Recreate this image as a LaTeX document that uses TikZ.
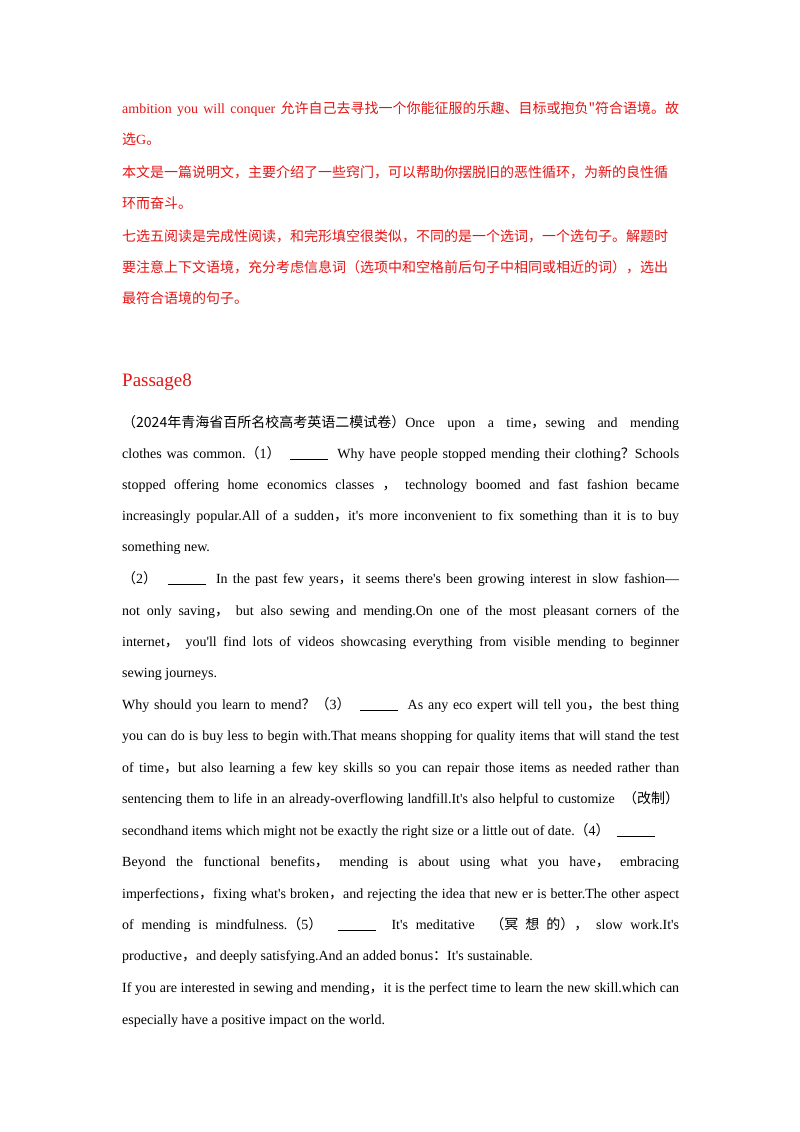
\documentclass[tikz,border=0pt]{standalone}
\usepackage{fontspec}
\setmainfont{Liberation Serif}[Ligatures=TeXReset]
\newfontfamily\cjk{Noto Sans CJK SC}
\definecolor{redt}{RGB}{230,20,20}
\newcommand\J[1]{\hbox to 557pt{#1}}
\newcommand\B{\underline{\hspace{38pt}}}
\hbadness=10000
\begin{document}
\begin{tikzpicture}[x=1pt,y=-1pt,
 ln/.style={anchor=base west,inner sep=0pt,font=\fontsize{14}{16}\selectfont},
 rd/.style={text=redt}]
\useasboundingbox (0,0) rectangle (800,1132);
\node[ln,rd] (r1) at (122,113) {\J{ambition you will conquer {\cjk 允许自己去寻找一个你能征服的乐趣、目标或抱负"符合语境。故}}};
\node[ln,rd] (r2) at (122,144) {{\cjk 选}G{\cjk 。}};
\node[ln,rd] (r3) at (122,177) {\J{\cjk 本文是一篇说明文，主要介绍了一些窍门，可以帮助你摆脱旧的恶性循环，为新的良性循}};
\node[ln,rd] (r4) at (122,208) {\cjk 环而奋斗。};
\node[ln,rd] (r5) at (122,241) {\J{\cjk 七选五阅读是完成性阅读，和完形填空很类似，不同的是一个选词，一个选句子。解题时}};
\node[ln,rd] (r6) at (122,272) {\J{\cjk 要注意上下文语境，充分考虑信息词（选项中和空格前后句子中相同或相近的词），选出}};
\node[ln,rd] (r7) at (122,303) {\cjk 最符合语境的句子。};
\node[anchor=base west,inner sep=0pt,text=redt,font=\fontsize{19}{22}\selectfont] (h) at (122,386) {Passage8};
\node[ln] (a1) at (122,427) {\J{{\cjk （2024年青海省百所名校高考英语二模试卷）}Once upon a time{\cjk ，}sewing and mending}};
\node[ln] (a2) at (122,458) {\J{clothes was common.{\cjk （}1{\cjk ）}\ \ \B\ \ Why have people stopped mending their clothing{\cjk ？}Schools}};
\node[ln] (a3) at (122,489) {\J{stopped offering home economics classes {\cjk ，} technology boomed and fast fashion became}};
\node[ln] (a4) at (122,520) {\J{increasingly popular.All of a sudden{\cjk ，}it's more inconvenient to fix something than it is to buy}};
\node[ln] (a5) at (122,551) {something new.};
\node[ln] (b1) at (122,583) {\J{{\cjk （}2{\cjk ）}\ \ \B\ \ In the past few years{\cjk ，}it seems there's been growing interest in slow fashion—}};
\node[ln] (b2) at (122,615) {\J{not only saving{\cjk ，} but also sewing and mending.On one of the most pleasant corners of the}};
\node[ln] (b3) at (122,646) {\J{internet{\cjk ，} you'll find lots of videos showcasing everything from visible mending to beginner}};
\node[ln] (b4) at (122,677) {sewing journeys.};
\node[ln] (c1) at (122,709) {\J{Why should you learn to mend{\cjk ？（}3{\cjk ）}\ \ \B\ \ As any eco expert will tell you{\cjk ，}the best thing}};
\node[ln] (c2) at (122,740) {\J{you can do is buy less to begin with.That means shopping for quality items that will stand the test}};
\node[ln] (c3) at (122,772) {\J{of time{\cjk ，}but also learning a few key skills so you can repair those items as needed rather than}};
\node[ln] (c4) at (122,803) {\J{sentencing them to life in an already-overflowing landfill.It's also helpful to customize \ {\cjk （改制）}}};
\node[ln] (c5) at (122,835) {secondhand items which might not be exactly the right size or a little out of date.{\cjk （}4{\cjk ）}\ \ \B};
\node[ln] (d1) at (122,866) {\J{Beyond the functional benefits{\cjk ，} mending is about using what you have{\cjk ，} embracing}};
\node[ln] (d2) at (122,898) {\J{imperfections{\cjk ，}fixing what's broken{\cjk ，}and rejecting the idea that new er is better.The other aspect}};
\node[ln] (d3) at (122,929) {\J{of mending is mindfulness.{\cjk （}5{\cjk ）}\ \ \B\ \ It's meditative \ {\cjk （冥 想 的）}{\cjk ，} slow work.It's}};
\node[ln] (d4) at (122,960) {productive{\cjk ，}and deeply satisfying.And an added bonus{\cjk ：}It's sustainable.};
\node[ln] (e1) at (122,992) {\J{If you are interested in sewing and mending{\cjk ，}it is the perfect time to learn the new skill.which can}};
\node[ln] (e2) at (122,1024) {especially have a positive impact on the world.};
\end{tikzpicture}
\end{document}
